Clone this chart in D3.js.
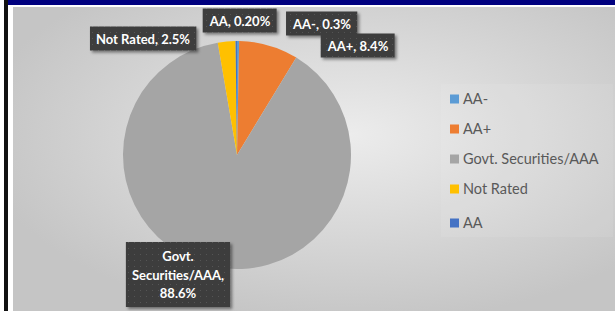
<!DOCTYPE html>
<html><head><meta charset="utf-8">
<script src="https://cdn.jsdelivr.net/npm/d3@7"></script>
<style>html,body{margin:0;padding:0;background:#fff;overflow:hidden}</style>
</head><body>
<svg id="chart" width="615" height="311"></svg>
<script>
const categories = ["AA-", "AA+", "Govt. Securities/AAA", "Not Rated", "AA"];
const values = [0.3, 8.4, 88.6, 2.5, 0.2];
const valueLabels = ["0.3%", "8.4%", "88.6%", "2.5%", "0.20%"];
const colors = ["#5B9BD5", "#ED7D31", "#A5A5A5", "#FFC000", "#4472C4"];

const svg = d3.select("#chart");
const defs = svg.append("defs");
const rg = defs.append("radialGradient").attr("id","bg").attr("cx","0.56").attr("cy","0.42").attr("r","0.62");
rg.append("stop").attr("offset","0").attr("stop-color","#ececec");
rg.append("stop").attr("offset","1").attr("stop-color","#c5c5c5");
const pat = defs.append("pattern").attr("id","dots").attr("width",6).attr("height",6).attr("patternUnits","userSpaceOnUse");
pat.append("rect").attr("width",6).attr("height",6).attr("fill","#3d3d3d");
pat.append("rect").attr("x",2).attr("y",2).attr("width",1).attr("height",1).attr("fill","#555");
const f = defs.append("filter").attr("id","sh").attr("x","-20%").attr("y","-20%").attr("width","150%").attr("height","160%");
f.append("feDropShadow").attr("dx",2).attr("dy",2).attr("stdDeviation",1.5).attr("flood-color","#000").attr("flood-opacity",0.45);

// frame
svg.append("rect").attr("x",0).attr("y",0).attr("width",615).attr("height",311).attr("fill","#fff");
svg.append("rect").attr("x",4).attr("y",0).attr("width",4).attr("height",311).attr("fill","#111");
svg.append("rect").attr("x",8).attr("y",0).attr("width",607).attr("height",5).attr("fill","#00007f");
svg.append("rect").attr("x",13).attr("y",7).attr("width",602).attr("height",304).attr("fill","url(#bg)");

// pie
const cx = 237, cy = 155, r = 114;
const pie = d3.pie().sort(null).value(d => d.v).startAngle(0).endAngle(2*Math.PI);
const data = categories.map((c,i)=>({c, v: values[i], col: colors[i], lab: valueLabels[i]}));
const arcs = pie(data);
const arc = d3.arc().innerRadius(0).outerRadius(r);
const g = svg.append("g").attr("transform",`translate(${cx},${cy})`);
g.selectAll("path").data(arcs).join("path").attr("d",arc).attr("fill",d=>d.data.col);

// labels
const labelPos = {
  "AA-": [322, 24],
  "AA+": [358, 46],
  "Govt. Securities/AAA": [178, 275],
  "Not Rated": [143, 39],
  "AA": [240, 21]
};
const lg = svg.append("g");
data.forEach(d => {
  const [x,y] = labelPos[d.c];
  const lines = d.c === "Govt. Securities/AAA" ? ["Govt.", "Securities/AAA,", d.lab] : [d.c + ", " + d.lab];
  const grp = lg.append("g");
  const box = grp.append("rect").attr("fill","url(#dots)").attr("filter","url(#sh)");
  const lh = 18.5;
  const t = grp.append("text").attr("text-anchor","middle")
    .attr("font-family","Lato, 'Open Sans', sans-serif").attr("font-weight","bold")
    .attr("font-size","13px").attr("fill","#fff");
  lines.forEach((ln,i)=>{
    t.append("tspan").attr("x",x).attr("y", y + (i - (lines.length-1)/2)*lh + 4.5).text(ln);
  });
  const bb = t.node().getBBox();
  const ph = 6, pv = lines.length>1 ? 6 : 4;
  box.attr("x", bb.x - ph).attr("y", bb.y - pv).attr("width", bb.width + 2*ph).attr("height", bb.height + 2*pv);
});

// legend
svg.append("rect").attr("x",441).attr("y",84).attr("width",172).attr("height",153).attr("fill","#fff").attr("opacity",0.08);
const legY = [99, 129, 159, 189, 223];
const leg = svg.append("g");
data.forEach((d,i)=>{
  leg.append("rect").attr("x",450).attr("y",legY[i]-4.5).attr("width",9).attr("height",9).attr("fill",d.col);
  leg.append("text").attr("x",463).attr("y",legY[i]+5)
    .attr("font-family","Lato, 'Open Sans', sans-serif").attr("font-size","14.5px").attr("fill","#595959").text(d.c);
});
</script>
</body></html>
